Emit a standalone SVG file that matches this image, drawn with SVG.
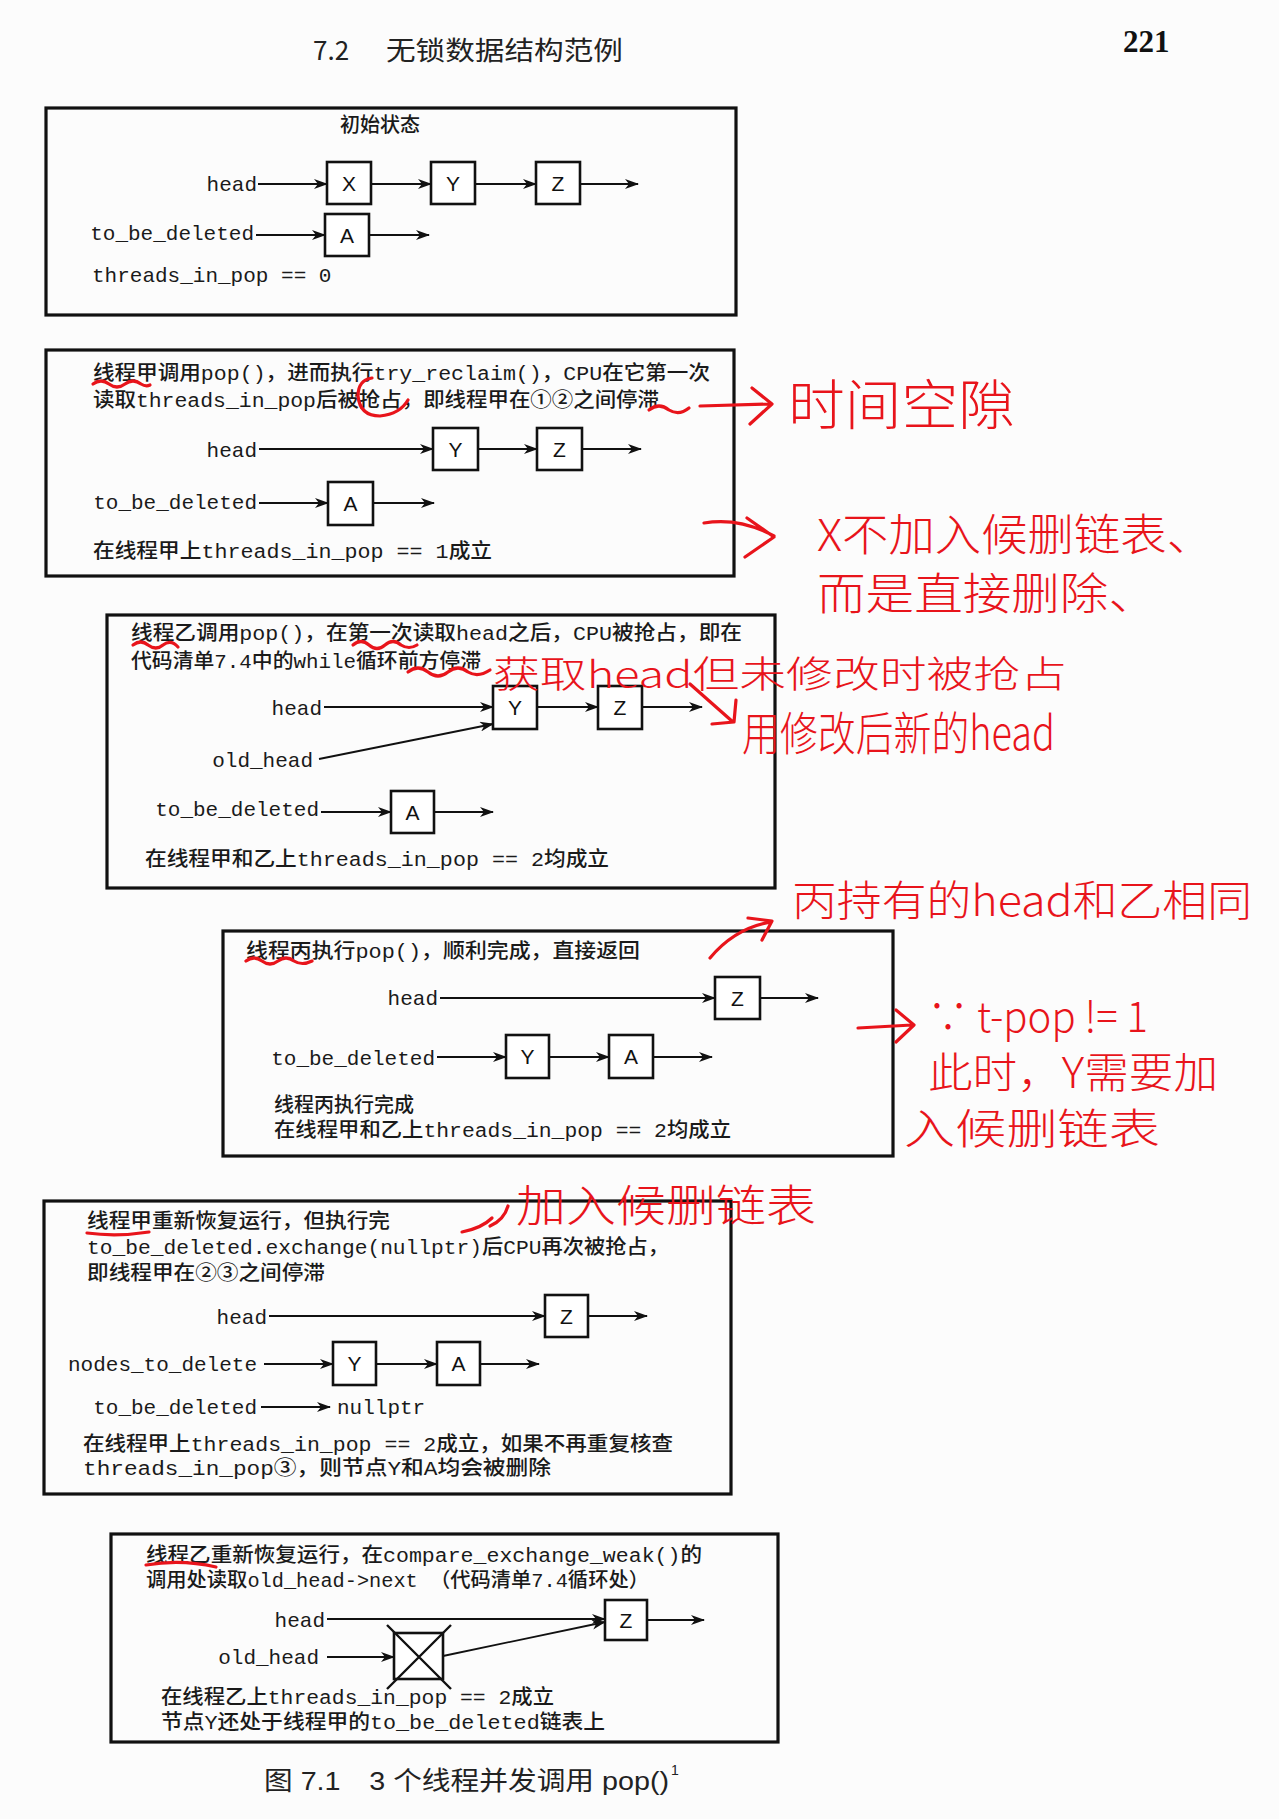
<svg xmlns="http://www.w3.org/2000/svg" width="1279" height="1819" viewBox="0 0 1279 1819">
<defs>
<marker id="ah" markerUnits="userSpaceOnUse" markerWidth="14" markerHeight="10" refX="13" refY="5" orient="auto">
<path d="M0,0 L14,5 L0,10 L4,5 z" fill="#111"/>
</marker>
<style>
.frame{fill:none;stroke:#111;stroke-width:3.2}
.node rect{fill:#fff;stroke:#111;stroke-width:2.6}
.node text{font-family:"Liberation Sans","DejaVu Sans",sans-serif;font-size:21px;fill:#111;text-anchor:middle}
.lbl{font-family:"Liberation Mono","DejaVu Sans Mono",monospace;font-size:21px;fill:#1a1a1a}
.end{text-anchor:end}
.txt{font-family:"Liberation Mono","Noto Sans CJK SC",monospace;font-size:20px;fill:#1a1a1a;font-weight:500}
.cj{font-family:"Liberation Mono","Noto Sans CJK SC",monospace;font-size:20px;fill:#1a1a1a;font-weight:500}
.conn line{stroke:#111;stroke-width:1.8;marker-end:url(#ah)}
.red{fill:none;stroke:#e8141b;stroke-width:3.2;stroke-linecap:round;stroke-linejoin:round}
.hand{font-family:"Noto Sans CJK SC",sans-serif;fill:#e8141b;font-weight:300}
</style>
</defs>
<rect width="1279" height="1819" fill="#fcfcfc"/>

<g id="page-header">
<text x="313" y="60" font-family="Noto Sans CJK SC, sans-serif" font-size="26" fill="#222">7.2</text>
<text x="386" y="60" font-family="Noto Sans CJK SC, sans-serif" font-size="26" fill="#222" textLength="237" lengthAdjust="spacingAndGlyphs">无锁数据结构范例</text>
<text x="1123" y="52" font-family="Liberation Serif, serif" font-size="31" font-weight="bold" fill="#111">221</text>
</g>

<!-- Panel 1 -->
<g id="panel1">
<rect class="frame" x="46" y="108" width="690" height="207"/>
<text class="cj" x="380" y="132" text-anchor="middle" font-size="17">初始状态</text>
<text class="lbl end" x="257" y="191">head</text>
<text class="lbl end" x="254" y="240">to_be_deleted</text>
<text class="lbl" x="92" y="282">threads_in_pop == 0</text>
<g id="p1-X" class="node"><rect x="327" y="162" width="44" height="42"/><text x="349" y="191">X</text></g>
<g id="p1-Y" class="node"><rect x="431" y="162" width="44" height="42"/><text x="453" y="191">Y</text></g>
<g id="p1-Z" class="node"><rect x="536" y="162" width="44" height="42"/><text x="558" y="191">Z</text></g>
<g id="p1-A" class="node"><rect x="325" y="214" width="44" height="42"/><text x="347" y="243">A</text></g>
</g>

<!-- Panel 2 -->
<g id="panel2">
<rect class="frame" x="46" y="350" width="688" height="226"/>
<text class="txt" x="93" y="380" textLength="617" lengthAdjust="spacingAndGlyphs">线程甲调用pop()，进而执行try_reclaim()，CPU在它第一次</text>
<text class="txt" x="93" y="407" textLength="566" lengthAdjust="spacingAndGlyphs">读取threads_in_pop后被抢占，即线程甲在①②之间停滞</text>
<text class="lbl end" x="257" y="457">head</text>
<text class="lbl end" x="257" y="509">to_be_deleted</text>
<text class="txt" x="93" y="558" textLength="399" lengthAdjust="spacingAndGlyphs">在线程甲上threads_in_pop == 1成立</text>
<g id="p2-Y" class="node"><rect x="433" y="428" width="45" height="42"/><text x="455.5" y="457">Y</text></g>
<g id="p2-Z" class="node"><rect x="537" y="428" width="45" height="42"/><text x="559.5" y="457">Z</text></g>
<g id="p2-A" class="node"><rect x="328" y="482" width="45" height="43"/><text x="350.5" y="511">A</text></g>
</g>

<!-- Panel 3 -->
<g id="panel3">
<rect class="frame" x="107" y="615" width="668" height="273"/>
<text class="txt" x="131" y="640" textLength="611" lengthAdjust="spacingAndGlyphs">线程乙调用pop()，在第一次读取head之后，CPU被抢占，即在</text>
<text class="txt" x="131" y="668" textLength="350" lengthAdjust="spacingAndGlyphs">代码清单7.4中的while循环前方停滞</text>
<text class="lbl end" x="322" y="715">head</text>
<text class="lbl end" x="313" y="767">old_head</text>
<text class="lbl end" x="319" y="816">to_be_deleted</text>
<text class="txt" x="145" y="866" textLength="464" lengthAdjust="spacingAndGlyphs">在线程甲和乙上threads_in_pop == 2均成立</text>
<g id="p3-Y" class="node"><rect x="493" y="686" width="44" height="43"/><text x="515" y="715">Y</text></g>
<g id="p3-Z" class="node"><rect x="598" y="686" width="44" height="43"/><text x="620" y="715">Z</text></g>
<g id="p3-A" class="node"><rect x="391" y="791" width="43" height="42"/><text x="412.5" y="820">A</text></g>
</g>

<!-- Panel 4 -->
<g id="panel4">
<rect class="frame" x="223" y="931" width="670" height="225"/>
<text class="txt" x="246" y="958" textLength="394" lengthAdjust="spacingAndGlyphs">线程丙执行pop()，顺利完成，直接返回</text>
<text class="lbl end" x="438" y="1005">head</text>
<text class="lbl end" x="435" y="1065">to_be_deleted</text>
<text class="cj" x="274" y="1112">线程丙执行完成</text>
<text class="txt" x="274" y="1137" textLength="457" lengthAdjust="spacingAndGlyphs">在线程甲和乙上threads_in_pop == 2均成立</text>
<g id="p4-Z" class="node"><rect x="715" y="977" width="45" height="42"/><text x="737.5" y="1006">Z</text></g>
<g id="p4-Y" class="node"><rect x="506" y="1035" width="43" height="43"/><text x="527.5" y="1064">Y</text></g>
<g id="p4-A" class="node"><rect x="609" y="1035" width="44" height="43"/><text x="631" y="1064">A</text></g>
</g>

<!-- Panel 5 -->
<g id="panel5">
<rect class="frame" x="44" y="1201" width="687" height="293"/>
<text class="cj" x="87" y="1228" textLength="303" lengthAdjust="spacingAndGlyphs">线程甲重新恢复运行，但执行完</text>
<text class="txt" x="87" y="1254" textLength="582" lengthAdjust="spacingAndGlyphs">to_be_deleted.exchange(nullptr)后CPU再次被抢占，</text>
<text class="cj" x="87" y="1280" textLength="238" lengthAdjust="spacingAndGlyphs">即线程甲在②③之间停滞</text>
<text class="lbl end" x="267" y="1324">head</text>
<text class="lbl end" x="257" y="1371">nodes_to_delete</text>
<text class="lbl end" x="257" y="1414">to_be_deleted</text>
<text class="lbl" x="337" y="1414">nullptr</text>
<text class="txt" x="83" y="1451" textLength="590" lengthAdjust="spacingAndGlyphs">在线程甲上threads_in_pop == 2成立，如果不再重复核查</text>
<text class="txt" x="83" y="1475" textLength="468" lengthAdjust="spacingAndGlyphs">threads_in_pop③，则节点Y和A均会被删除</text>
<g id="p5-Z" class="node"><rect x="545" y="1295" width="43" height="42"/><text x="566.5" y="1324">Z</text></g>
<g id="p5-Y" class="node"><rect x="333" y="1342" width="43" height="43"/><text x="354.5" y="1371">Y</text></g>
<g id="p5-A" class="node"><rect x="437" y="1342" width="43" height="43"/><text x="458.5" y="1371">A</text></g>
</g>

<!-- Panel 6 -->
<g id="panel6">
<rect class="frame" x="111" y="1534" width="667" height="208"/>
<text class="txt" x="146" y="1562" textLength="556" lengthAdjust="spacingAndGlyphs">线程乙重新恢复运行，在compare_exchange_weak()的</text>
<text class="txt" x="146" y="1587" textLength="503" lengthAdjust="spacingAndGlyphs">调用处读取old_head-&gt;next （代码清单7.4循环处）</text>
<text class="lbl end" x="325" y="1627">head</text>
<text class="lbl end" x="319" y="1664">old_head</text>
<text class="txt" x="161" y="1704" textLength="393" lengthAdjust="spacingAndGlyphs">在线程乙上threads_in_pop == 2成立</text>
<text class="txt" x="161" y="1729" textLength="444" lengthAdjust="spacingAndGlyphs">节点Y还处于线程甲的to_be_deleted链表上</text>
<g id="p6-Z" class="node"><rect x="605" y="1600" width="42" height="40"/><text x="626" y="1628">Z</text></g>
<g id="p6-deleted" class="node"><rect x="394" y="1633" width="49" height="46"/>
<path d="M387,1625 L451,1689 M451,1625 L387,1689" stroke="#111" stroke-width="2.4" fill="none"/></g>
</g>

<!-- Connectors -->
<g id="connectors" class="conn">
<line x1="258" y1="184" x2="327" y2="184"/>
<line x1="371" y1="184" x2="431" y2="184"/>
<line x1="475" y1="184" x2="536" y2="184"/>
<line x1="580" y1="184" x2="638" y2="184"/>
<line x1="256" y1="235" x2="325" y2="235"/>
<line x1="369" y1="235" x2="429" y2="235"/>

<line x1="259" y1="449" x2="433" y2="449"/>
<line x1="478" y1="449" x2="537" y2="449"/>
<line x1="582" y1="449" x2="641" y2="449"/>
<line x1="259" y1="503" x2="328" y2="503"/>
<line x1="373" y1="503" x2="434" y2="503"/>

<line x1="324" y1="707" x2="493" y2="707"/>
<line x1="537" y1="707" x2="598" y2="707"/>
<line x1="642" y1="707" x2="702" y2="707"/>
<line x1="319" y1="759" x2="493" y2="724"/>
<line x1="321" y1="812" x2="391" y2="812"/>
<line x1="434" y1="812" x2="493" y2="812"/>

<line x1="440" y1="998" x2="715" y2="998"/>
<line x1="760" y1="998" x2="818" y2="998"/>
<line x1="437" y1="1057" x2="506" y2="1057"/>
<line x1="549" y1="1057" x2="609" y2="1057"/>
<line x1="653" y1="1057" x2="712" y2="1057"/>

<line x1="269" y1="1316" x2="545" y2="1316"/>
<line x1="588" y1="1316" x2="647" y2="1316"/>
<line x1="264" y1="1364" x2="333" y2="1364"/>
<line x1="376" y1="1364" x2="437" y2="1364"/>
<line x1="480" y1="1364" x2="539" y2="1364"/>
<line x1="261" y1="1407" x2="330" y2="1407"/>

<line x1="327" y1="1619" x2="605" y2="1619"/>
<line x1="647" y1="1620" x2="704" y2="1620"/>
<line x1="327" y1="1657" x2="394" y2="1657"/>
<line x1="443" y1="1656" x2="605" y2="1622"/>
</g>

<g id="caption">
<text x="264" y="1790" font-family="Liberation Sans, Noto Sans CJK SC, sans-serif" font-size="26" fill="#222" textLength="405" lengthAdjust="spacingAndGlyphs">图 7.1　3 个线程并发调用 pop()</text>
<text x="671" y="1775" font-family="Liberation Sans, sans-serif" font-size="14" fill="#222">1</text>
</g>

<!-- Handwritten red annotations -->
<g id="annotations">
<path class="red" d="M93,384 q8,-6 16,0 q8,6 16,0 q8,-6 16,0 q5,3 9,1"/>
<path class="red" d="M372,378 q-14,2 -14,18 q2,20 22,20 q20,-2 28,-16"/>
<path class="red" d="M649,410 q10,-8 20,0 q10,6 20,-2"/>
<path class="red" d="M700,406 L770,404 M752,388 L772,404 L750,424"/>
<text class="hand" x="788" y="425" font-size="54" textLength="227" lengthAdjust="spacingAndGlyphs">时间空隙</text>

<path class="red" d="M704,523 q35,-6 70,13 M747,518 L774,537 L745,557"/>
<text class="hand" x="817" y="551" font-size="44" textLength="396" lengthAdjust="spacingAndGlyphs">X不加入候删链表、</text>
<text class="hand" x="817" y="610" font-size="44" textLength="340" lengthAdjust="spacingAndGlyphs">而是直接删除、</text>

<path class="red" d="M133,645 q8,-6 15,0 q8,6 15,0 q8,-6 15,2"/>
<path class="red" d="M353,645 q8,-7 16,0 q8,7 16,0 q8,-7 16,0 q8,5 16,0"/>
<path class="red" d="M408,672 q10,-8 20,0 q10,8 20,0 q10,-8 20,0 q10,6 22,-2"/>
<text class="hand" x="493" y="688" font-size="37" textLength="574" lengthAdjust="spacingAndGlyphs">获取head但未修改时被抢占</text>
<path class="red" d="M690,684 L733,722 M712,724 L734,722 L736,700"/>
<text class="hand" x="742" y="750" font-size="46" textLength="313" lengthAdjust="spacingAndGlyphs">用修改后新的head</text>

<path class="red" d="M710,958 q25,-30 61,-36 M748,918 L772,921 L762,940"/>
<text class="hand" x="792" y="916" font-size="42" textLength="460" lengthAdjust="spacingAndGlyphs">丙持有的head和乙相同</text>

<path class="red" d="M246,961 q8,-6 16,0 q8,6 16,0 q8,-6 16,0 q8,5 18,0"/>
<path class="red" d="M858,1028 L912,1025 M896,1010 L914,1025 L896,1042"/>
<text class="hand" x="928" y="1032" font-size="42" textLength="220" lengthAdjust="spacingAndGlyphs">∵ t-pop != 1</text>
<text class="hand" x="928" y="1088" font-size="42" textLength="290" lengthAdjust="spacingAndGlyphs">此时，Y需要加</text>
<text class="hand" x="904" y="1144" font-size="42" textLength="256" lengthAdjust="spacingAndGlyphs">入候删链表</text>

<path class="red" d="M462,1232 q20,-4 30,-14 M490,1226 q14,-6 18,-20"/>
<text class="hand" x="516" y="1222" font-size="44" textLength="300" lengthAdjust="spacingAndGlyphs">加入候删链表</text>
<path class="red" d="M87,1233 q30,4 62,-1"/>

<path class="red" d="M146,1565 q35,-6 70,2"/>
</g>
</svg>
